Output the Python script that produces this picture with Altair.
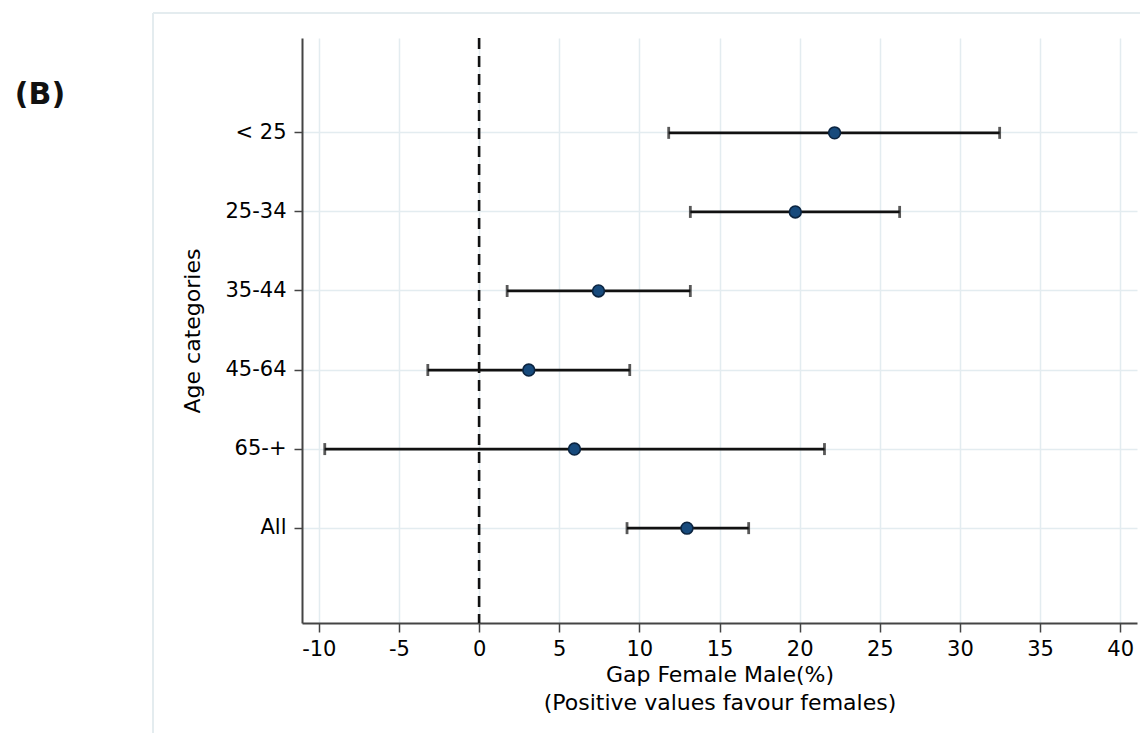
import altair as alt
import pandas as pd

categories = ["< 25", "25-34", "35-44", "45-64", "65-+", "All"]
estimates = [22.18, 19.73, 7.45, 3.1, 5.95, 12.97]
ci_low = [11.83, 13.18, 1.75, -3.2, -9.63, 9.23]
ci_high = [32.48, 26.24, 13.18, 9.4, 21.55, 16.82]
x_ticks = [-10, -5, 0, 5, 10, 15, 20, 25, 30, 35, 40]
x_domain = [-11.05, 41.05]
reference_value = [0]

df = pd.DataFrame({"cat": categories, "est": estimates, "lo": ci_low, "hi": ci_high})

FONT = "DejaVu Sans"
GRID = "#e3ecf0"

x_axis = alt.Axis(
    values=x_ticks, labelExpr="toString(datum.value)",
    title=["Gap Female Male(%)", "(Positive values favour females)"],
    titleFontSize=22, titleFont=FONT, titleFontWeight="normal", titleColor="#000",
    titleLineHeight=28, titlePadding=5,
    labelFont=FONT, labelFontSize=21, labelColor="#000", labelPadding=6,
    tickSize=9, tickColor="#444", tickWidth=1.5,
    domainColor="#444", domainWidth=2,
    grid=True, gridColor=GRID, gridWidth=1.5,
)
y_axis = alt.Axis(
    title="Age categories",
    titleFontSize=22, titleFont=FONT, titleFontWeight="normal", titleColor="#000",
    titlePadding=20,
    labelFont=FONT, labelFontSize=21, labelColor="#000", labelPadding=8,
    tickSize=8, tickColor="#444", tickWidth=1.5,
    domainColor="#444", domainWidth=2,
    grid=True, gridColor=GRID, gridWidth=1.5,
)
x_scale = alt.Scale(domain=x_domain, nice=False, zero=False)
y_scale = alt.Scale(type="band", paddingInner=0, paddingOuter=0.7, domain=categories)

base = alt.Chart(df)

bars = base.mark_rule(color="#111", strokeWidth=2.8).encode(
    x=alt.X("lo:Q", scale=x_scale, axis=x_axis),
    x2="hi:Q",
    y=alt.Y("cat:N", sort=categories, scale=y_scale, axis=y_axis),
)

caps_lo = base.mark_tick(color="#111", thickness=2.8, size=12).encode(x="lo:Q", y="cat:N")
caps_hi = base.mark_tick(color="#111", thickness=2.8, size=12).encode(x="hi:Q", y="cat:N")

zero = alt.Chart(pd.DataFrame({"v": reference_value})).mark_rule(
    color="#111", strokeWidth=2.6, strokeDash=[11, 7]
).encode(x="v:Q")

points = base.mark_point(
    shape="circle", filled=True, size=140, fill="#174a7c", stroke="#0b2440",
    strokeWidth=1.6, opacity=1
).encode(x="est:Q", y="cat:N")

label_b = alt.Chart(pd.DataFrame({"t": ["(B)"]})).mark_text(
    font=FONT, fontSize=30, fontWeight="bold", color="#111", align="center", baseline="middle"
).encode(text="t:N", x=alt.value(-262), y=alt.value(57))

frame_left = alt.Chart(pd.DataFrame({"f": [1]})).mark_rule(color="#e4ecef", strokeWidth=2).encode(
    x=alt.value(-149), y=alt.value(-25), y2=alt.value(700)
)
frame_top = alt.Chart(pd.DataFrame({"f": [1]})).mark_rule(color="#e4ecef", strokeWidth=2).encode(
    x=alt.value(-149), x2=alt.value(840), y=alt.value(-25)
)

chart = alt.layer(
    frame_left, frame_top, bars, zero, caps_lo, caps_hi, points, label_b
).properties(
    width=835, height=585,
    autosize=alt.AutoSizeParams(type="none"),
    padding={"left": 294, "top": 30, "right": 3, "bottom": 110},
    background="white",
).configure_view(stroke=None)

chart.save("out.html", embed_options={"renderer": "svg", "actions": False})
